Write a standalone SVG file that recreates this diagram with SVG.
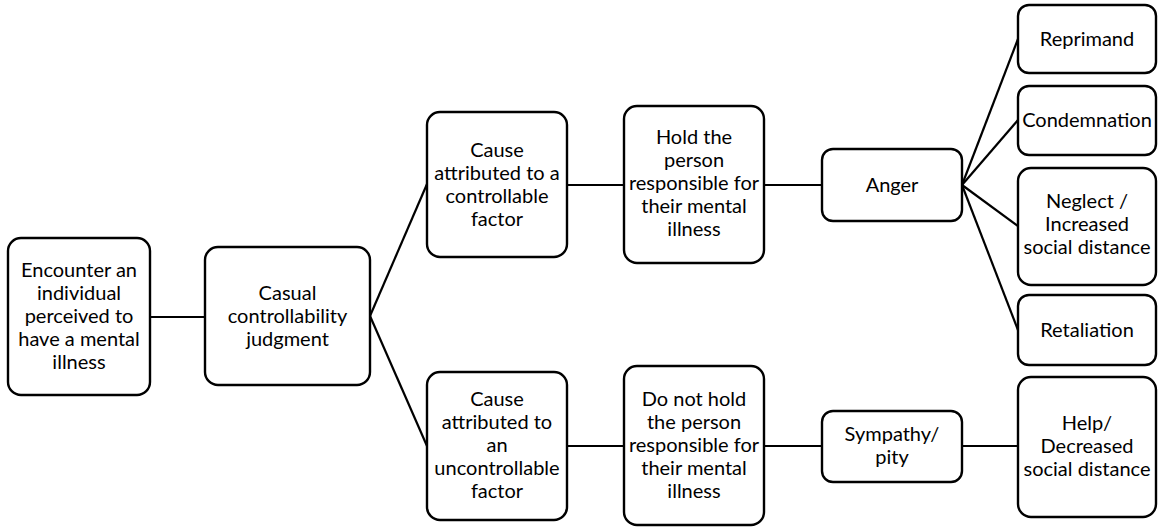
<svg xmlns="http://www.w3.org/2000/svg" width="1158" height="529" viewBox="0 0 1158 529">
<style>
rect{fill:#fff;stroke:#000;stroke-width:2.4}
text{font-family:Lato,"Liberation Sans",sans-serif;font-size:20px;fill:#000;text-anchor:middle}
#connectors line{stroke:#000;stroke-width:2.2}
</style>
<rect x="0" y="0" width="1158" height="529" style="stroke:none"/>
<g id="connectors">
<line x1="150" y1="317" x2="205" y2="317"/>
<line x1="370" y1="316" x2="427" y2="184"/>
<line x1="370" y1="316" x2="427" y2="446"/>
<line x1="567" y1="185" x2="624" y2="185"/>
<line x1="567" y1="446" x2="624" y2="446"/>
<line x1="764" y1="185" x2="822" y2="185"/>
<line x1="764" y1="446" x2="822" y2="446"/>
<line x1="962" y1="185" x2="1018" y2="39"/>
<line x1="962" y1="185" x2="1018" y2="120"/>
<line x1="962" y1="185" x2="1018" y2="226"/>
<line x1="962" y1="185" x2="1018" y2="330"/>
<line x1="962" y1="446" x2="1018" y2="446"/>
</g>
<g id="n1"><rect x="8" y="238" width="142" height="157" rx="13"/>
<text x="79" y="277">Encounter an</text><text x="79" y="300">individual</text><text x="79" y="323">perceived to</text><text x="79" y="346">have a mental</text><text x="79" y="369">illness</text></g>
<g id="n2"><rect x="205" y="247" width="165" height="138" rx="13"/>
<text x="287.5" y="300">Casual</text><text x="287.5" y="323">controllability</text><text x="287.5" y="346">judgment</text></g>
<g id="n3"><rect x="427" y="112" width="140" height="145" rx="13"/>
<text x="497" y="157">Cause</text><text x="497" y="180">attributed to a</text><text x="497" y="203">controllable</text><text x="497" y="226">factor</text></g>
<g id="n4"><rect x="624" y="106" width="140" height="157" rx="13"/>
<text x="694" y="144">Hold the</text><text x="694" y="167">person</text><text x="694" y="190">responsible for</text><text x="694" y="213">their mental</text><text x="694" y="236">illness</text></g>
<g id="n5"><rect x="427" y="372" width="140" height="148" rx="13"/>
<text x="497" y="406">Cause</text><text x="497" y="429">attributed to</text><text x="497" y="452">an</text><text x="497" y="475">uncontrollable</text><text x="497" y="498">factor</text></g>
<g id="n6"><rect x="624" y="366" width="140" height="159" rx="13"/>
<text x="694" y="406">Do not hold</text><text x="694" y="429">the person</text><text x="694" y="452">responsible for</text><text x="694" y="475">their mental</text><text x="694" y="498">illness</text></g>
<g id="n7"><rect x="822" y="149" width="140" height="72" rx="11"/>
<text x="892" y="192">Anger</text></g>
<g id="n8"><rect x="822" y="411" width="140" height="71" rx="11"/>
<text x="892" y="441">Sympathy/</text><text x="892" y="464">pity</text></g>
<g id="n9"><rect x="1018" y="5" width="138" height="68" rx="11"/>
<text x="1087" y="46">Reprimand</text></g>
<g id="n10"><rect x="1018" y="86" width="138" height="69" rx="11"/>
<text x="1087" y="127">Condemnation</text></g>
<g id="n11"><rect x="1018" y="168" width="138" height="117" rx="13"/>
<text x="1087" y="208">Neglect /</text><text x="1087" y="231">Increased</text><text x="1087" y="254">social distance</text></g>
<g id="n12"><rect x="1018" y="295" width="138" height="70" rx="11"/>
<text x="1087" y="337">Retaliation</text></g>
<g id="n13"><rect x="1018" y="377" width="138" height="140" rx="13"/>
<text x="1087" y="430">Help/</text><text x="1087" y="453">Decreased</text><text x="1087" y="476">social distance</text></g>
</svg>
